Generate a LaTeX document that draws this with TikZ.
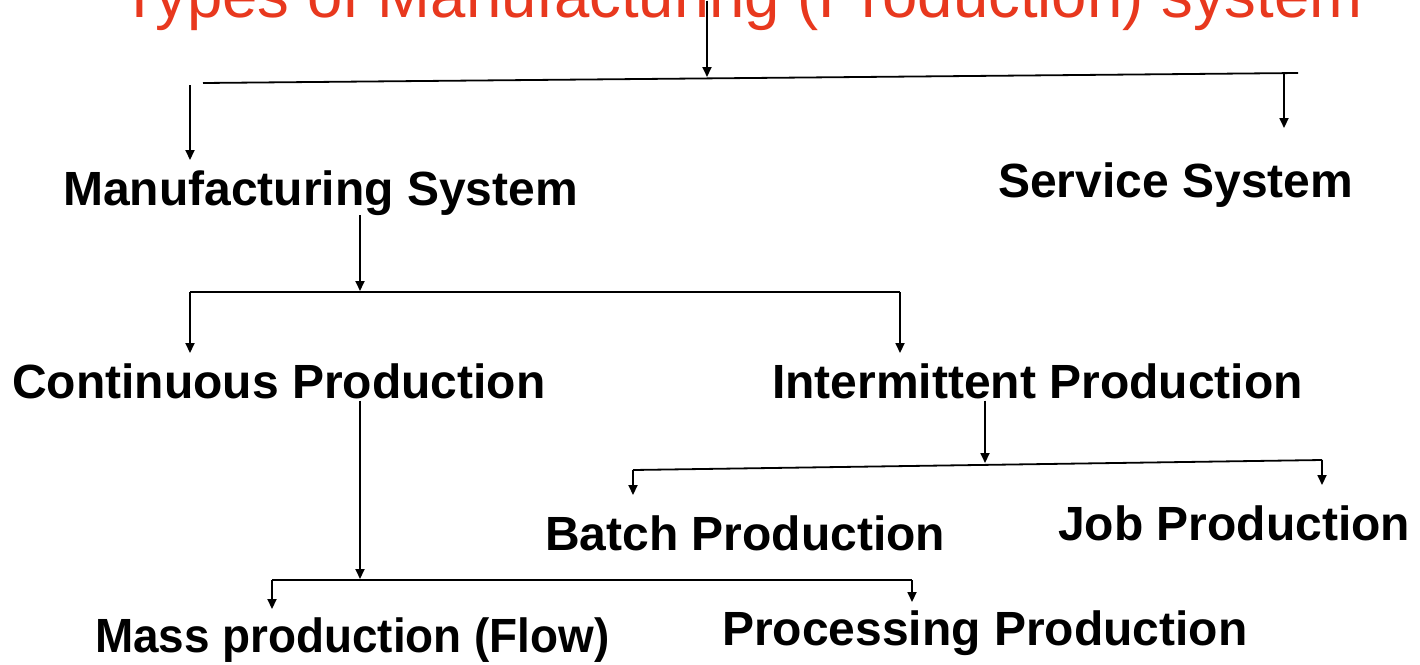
\documentclass[tikz,border=0pt]{standalone}
\usepackage{fontspec}
\setmainfont{Liberation Sans}
\usetikzlibrary{arrows.meta,calc}
\definecolor{titlered}{RGB}{232,56,30}
\tikzset{
  lbl/.style={font=\bfseries\fontsize{48}{52}\selectfont, inner sep=0pt, anchor=base west, text=black},
  ttl/.style={font=\fontsize{63.5}{68}\selectfont, inner sep=0pt, anchor=base west, text=titlered},
  wire/.style={line width=1.8pt, black},
  arr/.style={wire, -{Triangle[width=9pt,length=10pt]}},
}
\begin{document}
\begin{tikzpicture}[x=1pt,y=-1pt]
\useasboundingbox (0,0) rectangle (1420,664);
\fill[white] (0,0) rectangle (1420,664);

% headings
\node[ttl] (title) at (120,17) {Types of Manufacturing (Production) system};
\node[lbl] (mfg)   at (63,205)   {Manufacturing System};
\node[lbl] (svc)   at (998,197)  {Service System};
\node[lbl] (cont)  at (12,398)   {Continuous Production};
\node[lbl] (inter) at (772,398)  {Intermittent Production};
\node[lbl] (batch) at (545,550)  {Batch Production};
\node[lbl] (job)   at (1058,540) {Job Production};
\node[lbl] (mass)  at (95,652)   {\scalebox{0.955}[1]{Mass production (Flow)}};
\node[lbl] (proc)  at (722,645)  {Processing Production};

% branch bars
\coordinate (b1l) at (203,83);  \coordinate (b1r) at (1298,73);
\coordinate (b2l) at (190,292); \coordinate (b2r) at (900,292);
\coordinate (b3l) at (633,470); \coordinate (b3r) at (1322,460);
\coordinate (b4l) at (272,580); \coordinate (b4r) at (912,580);
\draw[wire] (b1l) -- (b1r);
\draw[wire] (b2l) -- (b2r);
\draw[wire] (b3l) -- (b3r);
\draw[wire] (b4l) -- (b4r);

% junction points where the parent arrows meet the bars
\coordinate (j1) at (707,77);
\coordinate (j2) at (360,291);
\coordinate (j3) at (985,463);
\coordinate (j4) at (360,579);

% parents into the bars
\draw[arr] (j1 |- title.center) -- (j1);
\draw[arr] (mfg.south -| j2) -- (j2);
\draw[arr] ($(inter.south -| j3)+(0,2)$) -- (j3);
\draw[arr] ($(cont.south -| j4)+(0,2)$) -- (j4);

% bars down to the children
\coordinate (t1) at (190,85);
\coordinate (t2) at (1284,73);
\draw[arr] (t1) -- ($(t1 |- mfg.north)+(0,-10)$);
\draw[arr] (t2) -- ($(t2 |- svc.north)+(0,-34)$);
\draw[arr] (b2l) -- ($(b2l |- cont.north)+(0,-10)$);
\draw[arr] (b2r) -- ($(b2r |- inter.north)+(0,-10)$);
\draw[arr] (b3l) -- ($(b3l |- batch.north)+(0,-20)$);
\draw[arr] (b3r) -- ($(b3r |- job.north)+(0,-20)$);
\draw[arr] (b4l) -- ($(b4l |- mass.north)+(0,-8)$);
\draw[arr] (b4r) -- ($(b4r |- proc.north)+(0,-8)$);
\end{tikzpicture}
\end{document}
